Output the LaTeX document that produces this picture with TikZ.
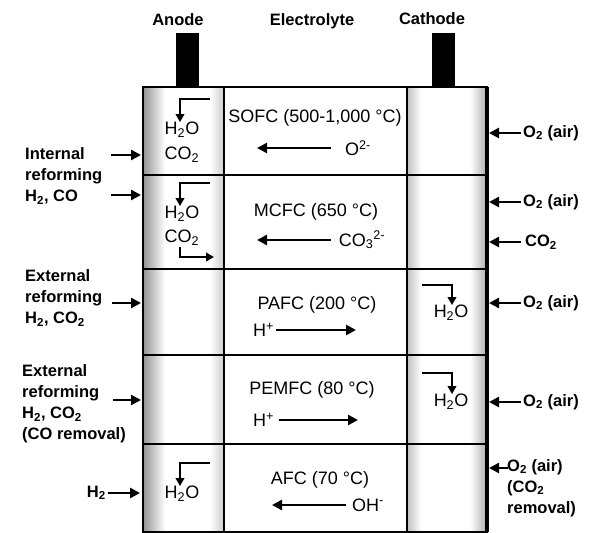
\documentclass[tikz,border=0pt]{standalone}
\usepackage{fontspec}
\setmainfont{Liberation Sans}
\usetikzlibrary{arrows.meta}
\newcommand\sbs[1]{\textsubscript{#1}}
\newcommand\sps[1]{\textsuperscript{#1}}
\begin{document}
\begin{tikzpicture}[x=1pt,y=-1pt,
  arr/.style={line width=2.6pt,-{Triangle[length=10pt,width=10pt]}},
  barr/.style={line width=2.1pt,-{Triangle[length=8pt,width=8.5pt]}},
  intext/.style={font=\fontsize{18}{20}\selectfont, inner sep=0pt},
  lab/.style={font=\bfseries\fontsize{16.5}{21}\selectfont, inner sep=0pt, align=left},
  term/.style={fill=black, draw=none, minimum width=23pt, minimum height=54pt, inner sep=0pt},
  grid/.style={line width=1.7pt},
  outer/.style={line width=2.4pt}]
\useasboundingbox (0,0) rectangle (592,533);
\fill[white] (0,0) rectangle (592,533);

% electrode shading
\shade[left color=gray!80, right color=white] (144,87) rectangle (165,532);
\shade[left color=white, right color=gray!40] (210,87) rectangle (224,532);
\shade[left color=gray!50, right color=white] (407,87) rectangle (421,532);
\shade[left color=white, right color=gray!65] (470,87) rectangle (487,532);

% titles and terminals
\node[lab] (anode) at (178,20) {Anode};
\node[lab] (electrolyte) at (312,21) {Electrolyte};
\node[lab] (cathode) at (432,19) {Cathode};
\node[term] (aterm) at (187.5,60) {};
\node[term] (cterm) at (443.5,60) {};

% grid
\draw[grid] (224,87) -- (224,532);
\draw[grid] (407,87) -- (407,532);
\foreach \yy in {175,269,355,444} \draw[grid] (143,\yy) -- (487,\yy);
\draw[outer] (143,87) rectangle (487,532);
\draw[line width=3.4pt] (487,87) -- (487,532);

% ---- Row 1: SOFC
\node[intext] (sofc) at (315,118) {SOFC (500-1,000 °C)};
\node[intext] (oion) at (358,148) {O\sps{2-}};
\coordinate (s1a) at (331,148); \coordinate (s1b) at (257,148);
\draw[arr] (s1a) -- (s1b);
\node[intext] (h2o1) at (182,130) {H\sbs{2}O};
\node[intext] (co21) at (182,155) {CO\sbs{2}};
\coordinate (b1a) at (210,99); \coordinate (b1b) at (180,99);
\draw[barr] (b1a) -- (b1b) -- (h2o1.north -| b1b);
\node[lab] (o2r1) at (551,133) {O\sbs{2} (air)};
\coordinate (r1) at (521,133); \coordinate (r1e) at (489,133);
\draw[arr] (r1) -- (r1e);

% left label rows 1-2
\node[lab, anchor=west] (intref) at (25,176) {Internal\\reforming\\H\sbs{2}, CO};
\coordinate (l1a) at (111,155); \coordinate (l1b) at (141,155);
\coordinate (l2a) at (111,195); \coordinate (l2b) at (141,195);
\draw[arr] (l1a) -- (l1b);
\draw[arr] (l2a) -- (l2b);

% ---- Row 2: MCFC
\node[intext] (mcfc) at (316,212) {MCFC (650 °C)};
\node[intext] (co3) at (362,240) {CO\sbs{3}\sps{2-}};
\coordinate (s2a) at (331,240); \coordinate (s2b) at (257,240);
\draw[arr] (s2a) -- (s2b);
\node[intext] (h2o2) at (182,214) {H\sbs{2}O};
\node[intext] (co22) at (182,238) {CO\sbs{2}};
\coordinate (b2a) at (210,183); \coordinate (b2b) at (180,183);
\draw[barr] (b2a) -- (b2b) -- (h2o2.north -| b2b);
\coordinate (b3a) at (180,247); \coordinate (b3b) at (180,257); \coordinate (b3c) at (214,257);
\draw[barr] (b3a) -- (b3b) -- (b3c);
\node[lab] (o2r2) at (551,202) {O\sbs{2} (air)};
\coordinate (r2) at (521,202); \coordinate (r2e) at (489,202);
\draw[arr] (r2) -- (r2e);
\node[lab, anchor=west] (co2r) at (525,242) {CO\sbs{2}};
\coordinate (r3) at (521,242); \coordinate (r3e) at (489,242);
\draw[arr] (r3) -- (r3e);

% ---- Row 3: PAFC
\node[intext] (pafc) at (317,305) {PAFC (200 °C)};
\node[intext, anchor=west] (hp1) at (253,330) {H\sps{+}};
\coordinate (s3a) at (276,330); \coordinate (s3b) at (356,330);
\draw[arr] (s3a) -- (s3b);
\node[intext] (h2o3) at (451,313) {H\sbs{2}O};
\coordinate (c1a) at (422,285); \coordinate (c1b) at (452,285);
\draw[barr] (c1a) -- (c1b) -- (h2o3.north -| c1b);
\node[lab] (o2r3) at (551,303) {O\sbs{2} (air)};
\coordinate (r4) at (521,303); \coordinate (r4e) at (489,303);
\draw[arr] (r4) -- (r4e);
\node[lab, anchor=west] (extref1) at (25,298) {External\\reforming\\H\sbs{2}, CO\sbs{2}};
\coordinate (l3a) at (112,303); \coordinate (l3b) at (141,303);
\draw[arr] (l3a) -- (l3b);

% ---- Row 4: PEMFC
\node[intext] (pemfc) at (312,390) {PEMFC (80 °C)};
\node[intext, anchor=west] (hp2) at (253,420) {H\sps{+}};
\coordinate (s4a) at (279,420); \coordinate (s4b) at (358,420);
\draw[arr] (s4a) -- (s4b);
\node[intext] (h2o4) at (451,402) {H\sbs{2}O};
\coordinate (c2a) at (422,373); \coordinate (c2b) at (452,373);
\draw[barr] (c2a) -- (c2b) -- (h2o4.north -| c2b);
\node[lab] (o2r4) at (551,402) {O\sbs{2} (air)};
\coordinate (r5) at (521,402); \coordinate (r5e) at (489,402);
\draw[arr] (r5) -- (r5e);
\node[lab, anchor=west] (extref2) at (22,404) {External\\reforming\\H\sbs{2}, CO\sbs{2}\\(CO removal)};
\coordinate (l4a) at (113,400); \coordinate (l4b) at (141,400);
\draw[arr] (l4a) -- (l4b);

% ---- Row 5: AFC
\node[intext] (afc) at (320,480) {AFC (70 °C)};
\node[intext] (ohion) at (368,505) {OH\sps{-}};
\coordinate (s5a) at (346,505); \coordinate (s5b) at (272,505);
\draw[arr] (s5a) -- (s5b);
\node[intext] (h2o5) at (182,494) {H\sbs{2}O};
\coordinate (b5a) at (210,463); \coordinate (b5b) at (180,463);
\draw[barr] (b5a) -- (b5b) -- (h2o5.north -| b5b);
\node[lab, anchor=west] (o2r5) at (507,488) {O\sbs{2} (air)\\(CO\sbs{2}\\removal)};
\coordinate (r6) at (508,468); \coordinate (r6e) at (489,468);
\draw[arr] (r6) -- (r6e);
\node[lab, anchor=east] (h2in) at (106,493) {H\sbs{2}};
\coordinate (l5a) at (108,493); \coordinate (l5b) at (140,493);
\draw[arr] (l5a) -- (l5b);
\end{tikzpicture}
\end{document}
